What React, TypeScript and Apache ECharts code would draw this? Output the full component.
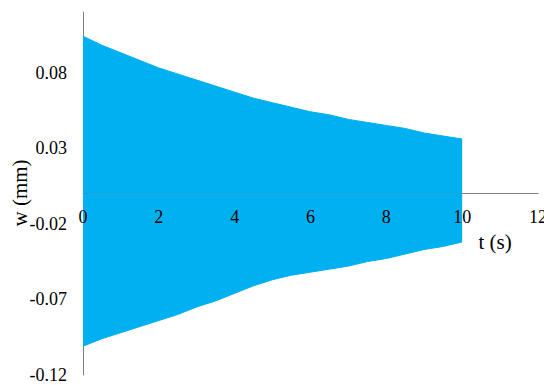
import React, { useEffect, useRef } from "react";
import * as echarts from "echarts";

// time samples (s) at which the envelope of the oscillation was read
const timeS = [0, 0.5, 1, 1.5, 2, 2.5, 3, 3.5, 4, 4.5, 5, 5.5, 6, 6.5, 7, 7.5, 8, 8.5, 9, 9.5, 10];
// upper envelope of w (mm)
const upperW = [0.104, 0.098, 0.093, 0.088, 0.083, 0.079, 0.075, 0.071, 0.067, 0.063, 0.060, 0.057, 0.054, 0.052, 0.049, 0.047, 0.045, 0.043, 0.040, 0.038, 0.036];
// lower envelope of w (mm)
const lowerW = [-0.101, -0.096, -0.092, -0.088, -0.084, -0.080, -0.075, -0.071, -0.066, -0.061, -0.057, -0.054, -0.052, -0.050, -0.048, -0.045, -0.043, -0.040, -0.037, -0.035, -0.032];

const yTickLabels = ["-0.12", "-0.07", "-0.02", "0.03", "0.08"];
const xTickLabels = ["0", "2", "4", "6", "8", "10", "12"];

const FONT = "Liberation Serif";
const BLUE = "#00b0f0";

const W = 544;
const H = 385;
const GRID = { left: 83, right: 6, top: 12, bottom: 10 };
const Y_MIN = -0.12;
const Y_MAX = 0.12;
const X_MIN = 0;
const X_MAX = 12;

export default function App() {
  const ref = useRef<HTMLDivElement>(null);
  useEffect(() => {
    document.body.style.margin = "0";
    if (!ref.current) return;
    const chart = echarts.init(ref.current, undefined, { renderer: "svg" });
    const upper = timeS.map((t, i) => [t, upperW[i]]);
    const lower = timeS.map((t, i) => [t, lowerW[i]]);
    const gridH = H - GRID.top - GRID.bottom;
    // distance from grid bottom up to the zero line
    const zeroOffset = (gridH * (0 - Y_MIN)) / (Y_MAX - Y_MIN);
    const baseX = {
      type: "value",
      position: "bottom",
      min: X_MIN,
      max: X_MAX,
      interval: 2,
      offset: -zeroOffset,
      axisTick: { show: false },
      splitLine: { show: false },
    };
    chart.setOption({
      animation: false,
      textStyle: { fontFamily: FONT },
      grid: { ...GRID, containLabel: false, outerBoundsMode: "none" },
      xAxis: [
        {
          ...baseX,
          z: 0,
          axisLine: { show: true, onZero: false, lineStyle: { color: "#7f7f7f", width: 1 } },
          axisLabel: { show: false },
        },
        {
          ...baseX,
          z: 10,
          axisLine: { show: false, onZero: false },
          axisLabel: {
            margin: 14,
            color: "#000",
            fontFamily: FONT,
            fontSize: 18,
            formatter: (v: number) => {
              const s = String(Math.round(v));
              return xTickLabels.includes(s) ? s : "";
            },
          },
        },
      ],
      yAxis: {
        type: "value",
        min: Y_MIN,
        max: Y_MAX,
        interval: 0.01,
        axisLine: { onZero: false, lineStyle: { color: "#7f7f7f", width: 1 } },
        axisTick: { show: false },
        splitLine: { show: false },
        axisLabel: {
          margin: 16,
          color: "#000",
          fontFamily: FONT,
          fontSize: 18,
          formatter: (v: number) => {
            const s = v.toFixed(2);
            return yTickLabels.includes(s) ? s : "";
          },
        },
      },
      graphic: [
        {
          type: "text",
          x: 20,
          y: 193,
          rotation: Math.PI / 2,
          style: {
            text: "w (mm)",
            fill: "#000",
            fontFamily: FONT,
            fontSize: 21,
            textAlign: "center",
            textVerticalAlign: "middle",
          },
        },
        {
          type: "text",
          x: 495,
          y: 242,
          style: {
            text: "t (s)",
            fill: "#000",
            fontFamily: FONT,
            fontSize: 21,
            textAlign: "center",
            textVerticalAlign: "middle",
          },
        },
      ],
      series: [
        {
          type: "line",
          xAxisIndex: 0,
          data: upper,
          showSymbol: false,
          symbol: "none",
          lineStyle: { color: BLUE, width: 1 },
          areaStyle: { color: BLUE, opacity: 1 },
          z: 2,
        },
        {
          type: "line",
          xAxisIndex: 0,
          data: lower,
          showSymbol: false,
          symbol: "none",
          lineStyle: { color: BLUE, width: 1 },
          areaStyle: { color: BLUE, opacity: 1 },
          z: 2,
        },
      ],
    });
    return () => chart.dispose();
  }, []);
  return <div ref={ref} style={{ width: W, height: H }} />;
}
